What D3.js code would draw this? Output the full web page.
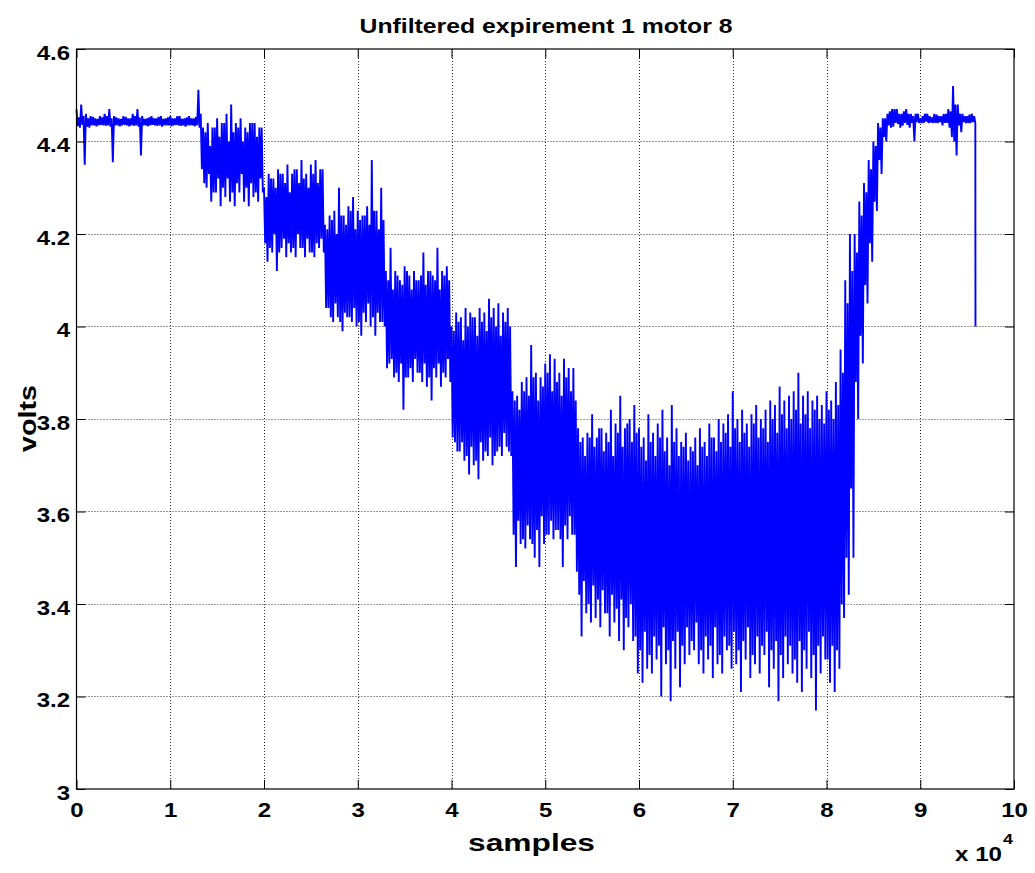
<!DOCTYPE html>
<html>
<head>
<meta charset="utf-8">
<script src="https://cdn.jsdelivr.net/npm/d3@7"></script>
<style>
  html, body { margin: 0; padding: 0; background: #fff; }
  svg { display: block; }
  text { font-family: "Liberation Sans", Arial, Helvetica, sans-serif; font-weight: bold; fill: #000; }
</style>
</head>
<body>
<svg id="chart" width="1035" height="873"></svg>
<script>
// Motor 8 voltage, experiment 1 (raw, unfiltered).
// The record is kept as two oscillations per block of samples:
// block i swings up to blockHigh[i], down to secondLow[i], up to
// secondHigh[i] and down to blockLow[i].
const blockSize = 500;           // samples per block
const blockHigh = [
  4.47, 4.48, 4.46, 4.455, 4.45, 4.455, 4.46, 4.47, 4.455, 4.45,
  4.455, 4.45, 4.46, 4.47, 4.455, 4.45, 4.455, 4.45, 4.455, 4.45,
  4.455, 4.45, 4.455, 4.45, 4.455, 4.45, 4.512, 4.43, 4.44, 4.43,
  4.45, 4.44, 4.46, 4.48, 4.44, 4.45, 4.43, 4.44, 4.44, 4.43,
  4.30, 4.33, 4.32, 4.34, 4.33, 4.35, 4.33, 4.34, 4.36, 4.33,
  4.35, 4.36, 4.34, 4.22, 4.24, 4.25, 4.30, 4.24, 4.26, 4.28,
  4.25, 4.24, 4.26, 4.36, 4.25, 4.30, 4.12, 4.17, 4.12, 4.10,
  4.13, 4.11, 4.12, 4.10, 4.16, 4.12, 4.11, 4.17, 4.12, 4.13,
  4.00, 4.03, 4.02, 4.04, 4.03, 4.02, 4.04, 4.03, 4.06, 4.04,
  4.05, 4.03, 4.04, 3.86, 3.85, 3.88, 3.89, 3.96, 3.90, 3.89,
  3.92, 3.94, 3.93, 3.90, 3.93, 3.91, 3.91, 3.78, 3.76, 3.77,
  3.81, 3.76, 3.78, 3.77, 3.82, 3.79, 3.85, 3.78, 3.80, 3.83,
  3.78, 3.76, 3.81, 3.77, 3.79, 3.82, 3.76, 3.83, 3.78, 3.75,
  3.77, 3.74, 3.76, 3.78, 3.75, 3.79, 3.76, 3.80, 3.79, 3.81,
  3.86, 3.80, 3.82, 3.79, 3.81, 3.83, 3.80, 3.82, 3.84, 3.83,
  3.87, 3.84, 3.85, 3.86, 3.90, 3.85, 3.86, 3.84, 3.85, 3.83,
  3.86, 3.84, 3.88, 3.95, 4.10, 4.20, 4.20, 4.27, 4.31, 4.36,
  4.40, 4.44, 4.45, 4.46, 4.47, 4.47, 4.46, 4.47, 4.46, 4.46,
  4.45, 4.46, 4.455, 4.46, 4.455, 4.46, 4.47, 4.52, 4.48, 4.46,
  4.455, 4.46
];
const secondLow = [
  4.433, 4.436, 4.432, 4.435, 4.433, 4.436, 4.434, 4.432, 4.435, 4.433,
  4.436, 4.433, 4.434, 4.432, 4.435, 4.433, 4.436, 4.434, 4.432, 4.435,
  4.433, 4.436, 4.434, 4.432, 4.435, 4.433, 4.43, 4.31, 4.33, 4.29,
  4.32, 4.30, 4.32, 4.29, 4.31, 4.33, 4.30, 4.31, 4.29, 4.32,
  4.18, 4.17, 4.20, 4.16, 4.19, 4.18, 4.17, 4.20, 4.17, 4.19,
  4.16, 4.18, 4.19, 4.04, 4.02, 4.05, 4.01, 4.03, 4.02, 4.04,
  4.01, 4.03, 4.05, 4.02, 4.03, 4.01, 3.91, 3.93, 3.90, 3.92,
  3.89, 3.91, 3.93, 3.90, 3.92, 3.89, 3.91, 3.92, 3.90, 3.93,
  3.76, 3.73, 3.75, 3.72, 3.74, 3.71, 3.75, 3.73, 3.76, 3.72,
  3.74, 3.77, 3.73, 3.55, 3.58, 3.54, 3.57, 3.53, 3.56, 3.59,
  3.55, 3.58, 3.56, 3.54, 3.57, 3.59, 3.55, 3.42, 3.45, 3.40,
  3.44, 3.41, 3.43, 3.38, 3.42, 3.39, 3.41, 3.37, 3.40, 3.33,
  3.30, 3.34, 3.29, 3.33, 3.31, 3.35, 3.30, 3.32, 3.34, 3.31,
  3.35, 3.32, 3.36, 3.30, 3.33, 3.31, 3.35, 3.29, 3.33, 3.31,
  3.34, 3.30, 3.32, 3.35, 3.29, 3.33, 3.31, 3.34, 3.30, 3.32,
  3.29, 3.33, 3.31, 3.28, 3.32, 3.30, 3.34, 3.29, 3.31, 3.33,
  3.28, 3.31, 3.30, 3.40, 3.50, 3.65, 3.88, 3.98, 4.09, 4.18,
  4.27, 4.36, 4.41, 4.435, 4.432, 4.438, 4.434, 4.436, 4.44, 4.442,
  4.44, 4.443, 4.441, 4.44, 4.442, 4.44, 4.43, 4.40, 4.435, 4.442,
  4.44, 4.442
];
const secondHigh = [
  4.452, 4.455, 4.45, 4.453, 4.449, 4.452, 4.455, 4.45, 4.452, 4.449,
  4.453, 4.45, 4.455, 4.452, 4.449, 4.452, 4.45, 4.453, 4.449, 4.452,
  4.45, 4.455, 4.449, 4.452, 4.45, 4.453, 4.46, 4.42, 4.39, 4.43,
  4.41, 4.44, 4.40, 4.42, 4.43, 4.40, 4.42, 4.44, 4.41, 4.43,
  4.28, 4.32, 4.30, 4.33, 4.31, 4.29, 4.34, 4.31, 4.32, 4.30,
  4.33, 4.31, 4.34, 4.21, 4.23, 4.20, 4.24, 4.22, 4.25, 4.21,
  4.23, 4.24, 4.22, 4.25, 4.21, 4.23, 4.10, 4.08, 4.11, 4.09,
  4.12, 4.08, 4.10, 4.11, 4.09, 4.12, 4.10, 4.08, 4.11, 4.10,
  3.99, 4.01, 3.97, 4.00, 4.02, 3.98, 4.01, 3.99, 4.02, 4.00,
  3.98, 4.01, 4.00, 3.84, 3.82, 3.86, 3.85, 3.89, 3.84, 3.87,
  3.90, 3.86, 3.88, 3.85, 3.89, 3.86, 3.84, 3.75, 3.72, 3.76,
  3.74, 3.78, 3.73, 3.75, 3.72, 3.77, 3.74, 3.79, 3.75, 3.77,
  3.74, 3.71, 3.75, 3.72, 3.76, 3.73, 3.70, 3.75, 3.72, 3.74,
  3.71, 3.73, 3.70, 3.74, 3.72, 3.76, 3.73, 3.75, 3.77, 3.74,
  3.78, 3.75, 3.77, 3.74, 3.79, 3.76, 3.78, 3.75, 3.80, 3.77,
  3.81, 3.78, 3.80, 3.82, 3.79, 3.81, 3.78, 3.82, 3.80, 3.79,
  3.82, 3.80, 3.83, 3.90, 4.05, 4.12, 4.16, 4.24, 4.29, 4.34,
  4.39, 4.43, 4.45, 4.465, 4.47, 4.46, 4.465, 4.46, 4.455, 4.46,
  4.455, 4.46, 4.452, 4.458, 4.455, 4.46, 4.465, 4.48, 4.46, 4.455,
  4.458, 4.455
];
const blockLow = [
  4.43, 4.35, 4.43, 4.435, 4.435, 4.435, 4.435, 4.355, 4.435, 4.435,
  4.435, 4.435, 4.435, 4.37, 4.435, 4.435, 4.435, 4.435, 4.435, 4.435,
  4.435, 4.435, 4.435, 4.435, 4.435, 4.435, 4.34, 4.30, 4.27, 4.29,
  4.26, 4.28, 4.27, 4.26, 4.29, 4.27, 4.26, 4.28, 4.27, 4.29,
  4.14, 4.16, 4.12, 4.17, 4.15, 4.16, 4.15, 4.17, 4.15, 4.16,
  4.15, 4.17, 4.16, 4.04, 4.01, 4.02, 3.99, 4.02, 4.01, 4.00,
  3.98, 4.01, 4.00, 3.98, 4.01, 4.00, 3.92, 3.89, 3.88, 3.82,
  3.89, 3.88, 3.90, 3.88, 3.87, 3.84, 3.89, 3.87, 3.89, 3.88,
  3.75, 3.73, 3.71, 3.68, 3.70, 3.67, 3.71, 3.72, 3.70, 3.73,
  3.72, 3.74, 3.72, 3.48, 3.53, 3.52, 3.54, 3.50, 3.48, 3.53,
  3.55, 3.54, 3.56, 3.48, 3.54, 3.55, 3.47, 3.33, 3.38, 3.36,
  3.37, 3.35, 3.38, 3.33, 3.36, 3.32, 3.30, 3.35, 3.32, 3.25,
  3.23, 3.26, 3.25, 3.28, 3.20, 3.27, 3.19, 3.26, 3.22, 3.27,
  3.29, 3.30, 3.27, 3.25, 3.28, 3.24, 3.27, 3.25, 3.30, 3.26,
  3.27, 3.21, 3.28, 3.24, 3.27, 3.25, 3.29, 3.22, 3.26, 3.19,
  3.24, 3.27, 3.25, 3.23, 3.21, 3.26, 3.24, 3.17, 3.25, 3.28,
  3.23, 3.21, 3.26, 3.37, 3.42, 3.50, 3.80, 3.92, 4.05, 4.14,
  4.25, 4.33, 4.40, 4.43, 4.44, 4.43, 4.44, 4.43, 4.40, 4.44,
  4.44, 4.44, 4.44, 4.44, 4.435, 4.44, 4.41, 4.37, 4.42, 4.44,
  4.44, 4.44
];
// Last recorded sample: the reading falls off when logging stops.
const lastSample = 95890;
const lastVolts = 4.0;

const xTicks = [0, 10000, 20000, 30000, 40000, 50000, 60000, 70000, 80000, 90000, 100000];
const xTickLabels = ["0", "1", "2", "3", "4", "5", "6", "7", "8", "9", "10"];
const yTicks = [3, 3.2, 3.4, 3.6, 3.8, 4, 4.2, 4.4, 4.6];
const yTickLabels = ["3", "3.2", "3.4", "3.6", "3.8", "4", "4.2", "4.4", "4.6"];

const titleText = "Unfiltered expirement 1 motor 8";
const xLabelText = "samples";
const yLabelText = "volts";
const exponentBase = "x 10";
const exponentPower = "4";

// Trace vertices, four per block, a quarter block apart.
const quarter = blockSize / 4;
const trace = [];
blockHigh.forEach((hi, i) => {
  const s = i * blockSize;
  trace.push([s, hi]);
  trace.push([s + quarter, secondLow[i]]);
  trace.push([s + 2 * quarter, secondHigh[i]]);
  trace.push([s + 3 * quarter, blockLow[i]]);
});
trace.push([lastSample, lastVolts]);

const svg = d3.select("#chart");
const plot = { left: 76.5, right: 1014, top: 49, bottom: 789 };
const stretch = 1.2;   // text is drawn slightly wide

const x = d3.scaleLinear().domain([0, 100000]).range([plot.left, plot.right]);
const y = d3.scaleLinear().domain([3, 4.6]).range([plot.bottom, plot.top]);

// Dotted grid
const grid = svg.append("g").attr("class", "grid")
  .attr("stroke", "#333").attr("stroke-width", 1)
  .attr("stroke-dasharray", "1,2");
grid.selectAll("line.gx").data(xTicks.slice(1, -1)).join("line")
  .attr("class", "gx")
  .attr("x1", d => Math.round(x(d)) + 0.5).attr("x2", d => Math.round(x(d)) + 0.5)
  .attr("y1", plot.top).attr("y2", plot.bottom);
grid.selectAll("line.gy").data(yTicks.slice(1, -1)).join("line")
  .attr("class", "gy")
  .attr("y1", d => Math.round(y(d)) + 0.5).attr("y2", d => Math.round(y(d)) + 0.5)
  .attr("x1", plot.left).attr("x2", plot.right);

// Signal trace
const line = d3.line().x(d => x(d[0])).y(d => y(d[1]));
svg.append("path")
  .datum(trace)
  .attr("d", line)
  .attr("fill", "none")
  .attr("stroke", "#0000ff")
  .attr("stroke-width", 1.9)
  .attr("stroke-linejoin", "miter")
  .attr("stroke-miterlimit", 1.5);

// Axes with inward ticks on all four sides
const tickLen = 9;
const fontSize = 20;
const axisBottom = d3.axisBottom(x).tickValues(xTicks).tickSizeInner(-tickLen).tickSizeOuter(0)
  .tickFormat((d, i) => xTickLabels[i]);
const axisLeft = d3.axisLeft(y).tickValues(yTicks).tickSizeInner(-tickLen).tickSizeOuter(0)
  .tickFormat((d, i) => yTickLabels[i]);
const axisTop = d3.axisTop(x).tickValues(xTicks).tickSizeInner(-tickLen).tickSizeOuter(0).tickFormat("");
const axisRight = d3.axisRight(y).tickValues(yTicks).tickSizeInner(-tickLen).tickSizeOuter(0).tickFormat("");

function styleAxis(g) {
  g.select(".domain").remove();
  g.selectAll(".tick line").attr("stroke", "#000").attr("stroke-width", 1);
  g.selectAll(".tick text")
    .attr("fill", "#000")
    .style("font-size", fontSize + "px")
    .style("font-weight", "bold")
    .style("font-family", '"Liberation Sans", Arial, sans-serif');
}
svg.append("g").attr("transform", `translate(0,${plot.bottom})`).call(axisBottom).call(styleAxis)
  .selectAll(".tick text")
  .attr("x", 0).attr("y", 28).attr("dy", 0)
  .attr("transform", `scale(${stretch},1)`);
svg.append("g").attr("transform", `translate(${plot.left},0)`).call(axisLeft).call(styleAxis)
  .selectAll(".tick text")
  .attr("x", -6.5 / stretch).attr("y", 10).attr("dy", 0)
  .attr("transform", `scale(${stretch},1)`);
svg.append("g").attr("transform", `translate(0,${plot.top})`).call(axisTop).call(styleAxis);
svg.append("g").attr("transform", `translate(${plot.right},0)`).call(axisRight).call(styleAxis);

// Axes box
svg.append("rect")
  .attr("x", plot.left).attr("y", plot.top)
  .attr("width", plot.right - plot.left).attr("height", plot.bottom - plot.top)
  .attr("fill", "none").attr("stroke", "#000").attr("stroke-width", 1.2);

// Title and axis labels
svg.append("text")
  .attr("x", 546).attr("y", 33)
  .attr("text-anchor", "middle").style("font-size", "20.5px")
  .attr("textLength", 373).attr("lengthAdjust", "spacingAndGlyphs")
  .text(titleText);
svg.append("text")
  .attr("x", 531.5).attr("y", 851)
  .attr("text-anchor", "middle").style("font-size", "24px")
  .attr("textLength", 127).attr("lengthAdjust", "spacingAndGlyphs")
  .text(xLabelText);
svg.append("text")
  .attr("transform", "translate(36,418.5) rotate(-90)")
  .attr("text-anchor", "middle").style("font-size", "23px")
  .attr("textLength", 67).attr("lengthAdjust", "spacingAndGlyphs")
  .text(yLabelText);

// Exponent of the x axis
svg.append("text").attr("x", 955).attr("y", 861).style("font-size", "20px")
  .attr("textLength", 47).attr("lengthAdjust", "spacingAndGlyphs")
  .text(exponentBase);
svg.append("text").attr("x", 1003).attr("y", 844).style("font-size", "14px")
  .attr("textLength", 10).attr("lengthAdjust", "spacingAndGlyphs")
  .text(exponentPower);
</script>
</body>
</html>
